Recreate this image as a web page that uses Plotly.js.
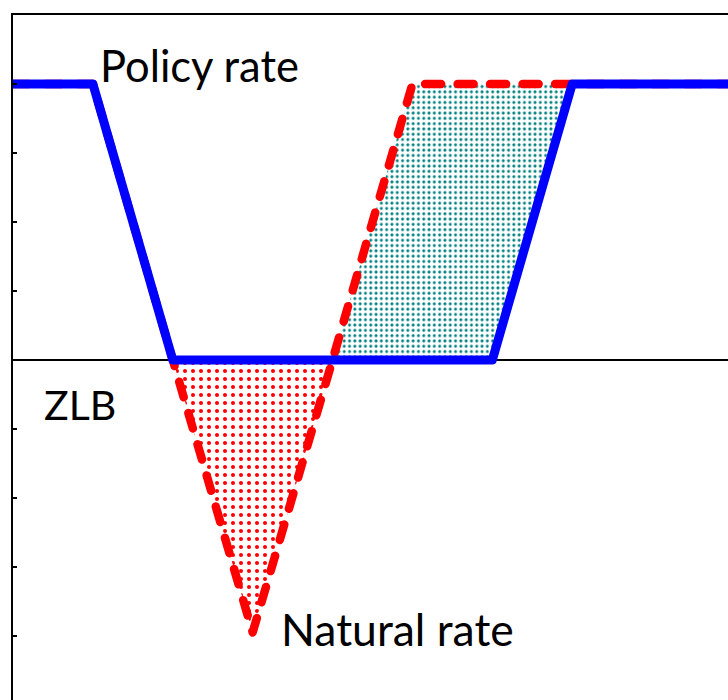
<!DOCTYPE html>
<html>
<head>
<meta charset="utf-8">
<script src="https://cdn.plot.ly/plotly-3.0.1.min.js"></script>
<style>
html,body{margin:0;padding:0;background:#fff;}
#chart{width:728px;height:700px;}
.js-line{stroke-linecap:round !important;stroke-linejoin:round !important;}
</style>
</head>
<body>
<div id="chart"></div>
<script>
// Time axis (arbitrary periods) and the two rates
var periods     = [0, 8, 16, 24, 32, 40, 48, 56, 72];
var policyRate  = [4, 4, 0, 0, 0, 0, 0, 4, 4];
var naturalRate = [4, 4, 0, -3.95, 0, 4, 4, 4, 4];
var labels = {policy: 'Policy rate', natural: 'Natural rate', zlb: 'ZLB'};

function slice(arr, a, b) { return arr.slice(a, b + 1); }
// shortfall region (natural below ZLB): indices 2..4 ; catch-up region: indices 4..7
var redX = slice(periods, 2, 4), tealX = slice(periods, 4, 7);

var FONT = 'Lato, "Liberation Sans", sans-serif';

var traces = [
  {x: redX, y: slice(policyRate, 2, 4), mode: 'lines', line: {width: 0}, hoverinfo: 'skip', showlegend: false},
  {x: redX, y: slice(naturalRate, 2, 4), mode: 'lines', line: {width: 0}, fill: 'tonexty',
   fillcolor: 'rgba(255,255,255,0)',
   fillpattern: {shape: '.', fgcolor: '#ff0000', size: 8, solidity: 0.2}, hoverinfo: 'skip', showlegend: false},
  {x: tealX, y: slice(policyRate, 4, 7), mode: 'lines', line: {width: 0}, hoverinfo: 'skip', showlegend: false},
  {x: tealX, y: slice(naturalRate, 4, 7), mode: 'lines', line: {width: 0}, fill: 'tonexty',
   fillcolor: 'rgba(255,255,255,0)',
   fillpattern: {shape: '.', fgcolor: '#008080', size: 5.3, solidity: 0.25}, hoverinfo: 'skip', showlegend: false},
  {x: periods, y: naturalRate, mode: 'lines', name: labels.natural,
   line: {color: '#ff0000', width: 8.5, dash: '16px,16.5px'}, showlegend: false},
  {x: periods, y: policyRate, mode: 'lines', name: labels.policy,
   line: {color: '#0000ff', width: 9}, showlegend: false}
];

var layout = {
  width: 728, height: 700,
  margin: {l: 13, r: 0, t: 15, b: 0, pad: 0},
  paper_bgcolor: '#fff', plot_bgcolor: '#fff',
  showlegend: false,
  xaxis: {range: [0, 71.6], side: 'top', showline: true, linecolor: '#000', linewidth: 2.5,
          showgrid: false, zeroline: false, showticklabels: false, ticks: ''},
  yaxis: {range: [-4.93, 5], showline: true, linecolor: '#000', linewidth: 2.5,
          showgrid: false, zeroline: true, zerolinecolor: '#000', zerolinewidth: 1.5,
          tickmode: 'array', tickvals: [-4, -3, -2, -1, 1, 2, 3, 4],
          ticks: 'inside', ticklen: 4, tickwidth: 1.5, tickcolor: '#000', showticklabels: false},
  annotations: [
    {x: 8.5, y: 4.28, xref: 'x', yref: 'y', text: labels.policy, showarrow: false,
     xanchor: 'left', yanchor: 'middle', font: {family: FONT, size: 43.5, color: '#000'}},
    {x: 2.9, y: -0.65, xref: 'x', yref: 'y', text: labels.zlb, showarrow: false,
     xanchor: 'left', yanchor: 'middle', font: {family: FONT, size: 41, color: '#000'}},
    {x: 26.6, y: -3.89, xref: 'x', yref: 'y', text: labels.natural, showarrow: false,
     xanchor: 'left', yanchor: 'middle', font: {family: FONT, size: 44.5, color: '#000'}}
  ]
};

Plotly.newPlot('chart', traces, layout, {staticPlot: true}).then(function () {
  document.querySelectorAll('.scatterlayer .js-line').forEach(function (p) {
    p.setAttribute('stroke-linecap', 'round');
    p.setAttribute('stroke-linejoin', 'round');
  });
});
</script>
</body>
</html>
